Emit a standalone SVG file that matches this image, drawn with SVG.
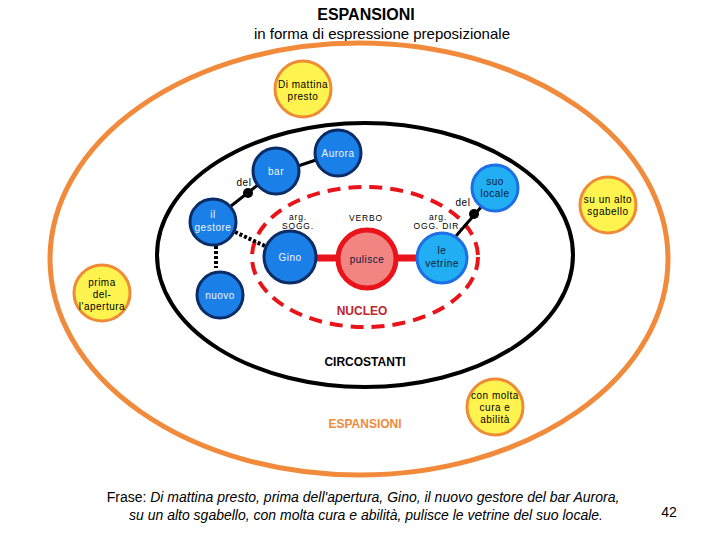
<svg xmlns="http://www.w3.org/2000/svg" width="720" height="540" viewBox="0 0 720 540">
<style>
text{font-family:"Liberation Sans",Arial,sans-serif;}
.ttl{font-weight:bold;font-size:16px;text-anchor:middle;}
.sub{font-size:15px;text-anchor:middle;}
.bl{fill:#1a7fe6;stroke:#0b2c66;stroke-width:3;}
.lb{fill:#22aef2;stroke:#1c6fe4;stroke-width:3;}
.yl{fill:#fff44f;stroke:#f08a36;stroke-width:3;}
.nt{font-size:10px;text-anchor:middle;letter-spacing:0.5px;}
.wt{fill:#eef6ff;}
.dk{fill:#0a1a3a;}
.sm{font-size:8.5px;text-anchor:middle;letter-spacing:0.8px;fill:#000;}
.zone{font-weight:bold;font-size:12px;text-anchor:middle;}
.fr{font-size:14px;text-anchor:middle;fill:#000;}
</style>
<rect width="720" height="540" fill="#fff"/>
<text class="ttl" x="366" y="20">ESPANSIONI</text>
<text class="sub" x="382" y="39">in forma di espressione preposizionale</text>

<g id="areas">
<ellipse cx="359" cy="259" rx="309" ry="216" fill="none" stroke="#f28a3c" stroke-width="5"/>
<ellipse cx="365" cy="255" rx="208" ry="132" fill="none" stroke="#000" stroke-width="4"/>
<ellipse cx="365" cy="257" rx="113" ry="70" fill="none" stroke="#e8141a" stroke-width="4" stroke-dasharray="13 8"/>
<text class="zone" x="362" y="315" fill="#c4242c" font-size="13">NUCLEO</text>
<text class="zone" x="365" y="366" fill="#000">CIRCOSTANTI</text>
<text class="zone" x="365" y="428" fill="#f08a3c">ESPANSIONI</text>
</g>

<g id="connectors">
<line x1="231" y1="206" x2="259" y2="184" stroke="#000" stroke-width="3"/>
<circle cx="248" cy="193" r="5" fill="#000"/>
<line x1="298" y1="166" x2="316" y2="160" stroke="#000" stroke-width="3"/>
<line x1="235" y1="232" x2="265" y2="246" stroke="#000" stroke-width="4" stroke-dasharray="3 2"/>
<line x1="216" y1="246" x2="216" y2="268" stroke="#000" stroke-width="4" stroke-dasharray="3 2"/>
<line x1="316" y1="258" x2="338" y2="258" stroke="#e8141a" stroke-width="7"/>
<line x1="396" y1="258" x2="417" y2="258" stroke="#e8141a" stroke-width="7"/>
<line x1="456" y1="236" x2="482" y2="206" stroke="#000" stroke-width="3"/>
<circle cx="474" cy="214" r="5" fill="#000"/>
<text class="nt" x="244" y="186" fill="#000">del</text>
<text class="nt" x="463" y="206" fill="#000">del</text>
</g>

<g id="labels">
<text class="sm" x="298" y="220">arg.</text>
<text class="sm" x="298" y="229">SOGG.</text>
<text class="sm" x="366" y="221">VERBO</text>
<text class="sm" x="438" y="220">arg.</text>
<text class="sm" x="438" y="229">OGG. DIR.</text>
</g>

<g id="n-aurora"><circle class="bl" cx="338" cy="153" r="23"/><text class="nt wt" x="338" y="157">Aurora</text></g>
<g id="n-bar"><circle class="bl" cx="276" cy="171" r="23"/><text class="nt wt" x="276" y="175">bar</text></g>
<g id="n-gestore"><circle class="bl" cx="213" cy="222" r="23"/><text class="nt wt" x="213" y="218">il</text><text class="nt wt" x="213" y="231">gestore</text></g>
<g id="n-nuovo"><circle class="bl" cx="220" cy="295" r="23"/><text class="nt wt" x="220" y="299">nuovo</text></g>
<g id="n-gino"><circle class="bl" cx="290" cy="257" r="26"/><text class="nt wt" x="290" y="261">Gino</text></g>
<g id="n-pulisce"><circle cx="367" cy="259" r="29" fill="#f28482" stroke="#e8141a" stroke-width="5"/><text class="nt dk" x="367" y="263">pulisce</text></g>
<g id="n-vetrine"><circle class="lb" cx="442" cy="258" r="25"/><text class="nt dk" x="442" y="254">le</text><text class="nt dk" x="442" y="267">vetrine</text></g>
<g id="n-locale"><circle class="lb" cx="495" cy="188" r="23"/><text class="nt dk" x="495" y="185">suo</text><text class="nt dk" x="495" y="197">locale</text></g>

<g id="n-mattina"><circle class="yl" cx="303" cy="89" r="28"/><text class="nt" x="303" y="88" fill="#000">Di mattina</text><text class="nt" x="303" y="100" fill="#000">presto</text></g>
<g id="n-prima"><circle class="yl" cx="102" cy="293" r="28"/><text class="nt" x="102" y="286" fill="#000">prima</text><text class="nt" x="102" y="298" fill="#000">del-</text><text class="nt" x="102" y="310" fill="#000">l'apertura</text></g>
<g id="n-sgabello"><circle class="yl" cx="608" cy="205" r="28"/><text class="nt" x="608" y="203" fill="#000">su un alto</text><text class="nt" x="608" y="215" fill="#000">sgabello</text></g>
<g id="n-cura"><circle class="yl" cx="495" cy="407" r="28"/><text class="nt" x="495" y="399" fill="#000">con molta</text><text class="nt" x="495" y="411" fill="#000">cura e</text><text class="nt" x="495" y="423" fill="#000">abilità</text></g>

<text class="fr" x="363" y="502">Frase: <tspan font-style="italic">Di mattina presto, prima dell'apertura, Gino, il nuovo gestore del bar Aurora,</tspan></text>
<text class="fr" x="366" y="520" font-style="italic">su un alto sgabello, con molta cura e abilità, pulisce le vetrine del suo locale.</text>
<text x="669" y="517" font-size="14" text-anchor="middle">42</text>
</svg>
